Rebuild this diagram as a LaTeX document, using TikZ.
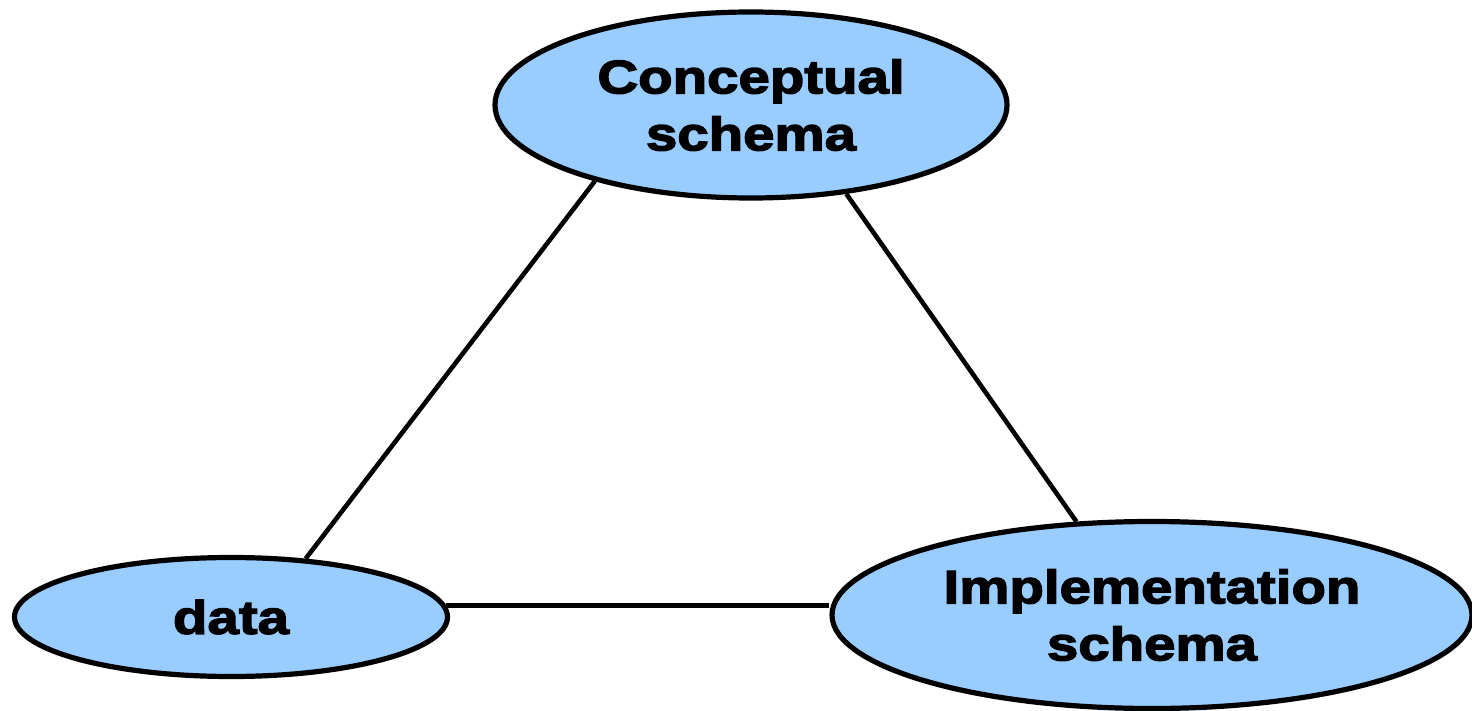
\documentclass[tikz,border=0pt]{standalone}
\usepackage{fontspec}
\setmainfont{Liberation Sans}
% heavy, wide face for the bubble labels
\newfontfamily\heavyface[FakeBold=3,FakeStretch=1.2]{Liberation Sans Bold}
\usetikzlibrary{shapes.geometric}
\definecolor{bubble}{HTML}{99CCFF}
\begin{document}
\begin{tikzpicture}[x=0.5pt,y=-0.5pt,
  bubblenode/.style={ellipse,draw=black,line width=2.6pt,fill=bubble,inner sep=0pt,
    align=center,font=\fontsize{23.5}{28.5}\heavyface},
  link/.style={line width=2.3pt,draw=black}]
  \useasboundingbox (0,0) rectangle (1472,711);
  \node[bubblenode,minimum width=256pt,minimum height=93pt] (concept) at (751,105) {Conceptual\\schema};
  \node[bubblenode,minimum width=216.5pt,minimum height=59.5pt] (data) at (231,617) {data};
  \node[bubblenode,minimum width=320pt,minimum height=93.5pt] (impl) at (1152,615) {Implementation\\schema};
  \draw[link] (concept.206.6) -- (data.38);
  \draw[link] (concept.317.7) -- (impl.129.8);
  \draw[link] (data.3) -- (data.3 -| impl.west);
\end{tikzpicture}
\end{document}
